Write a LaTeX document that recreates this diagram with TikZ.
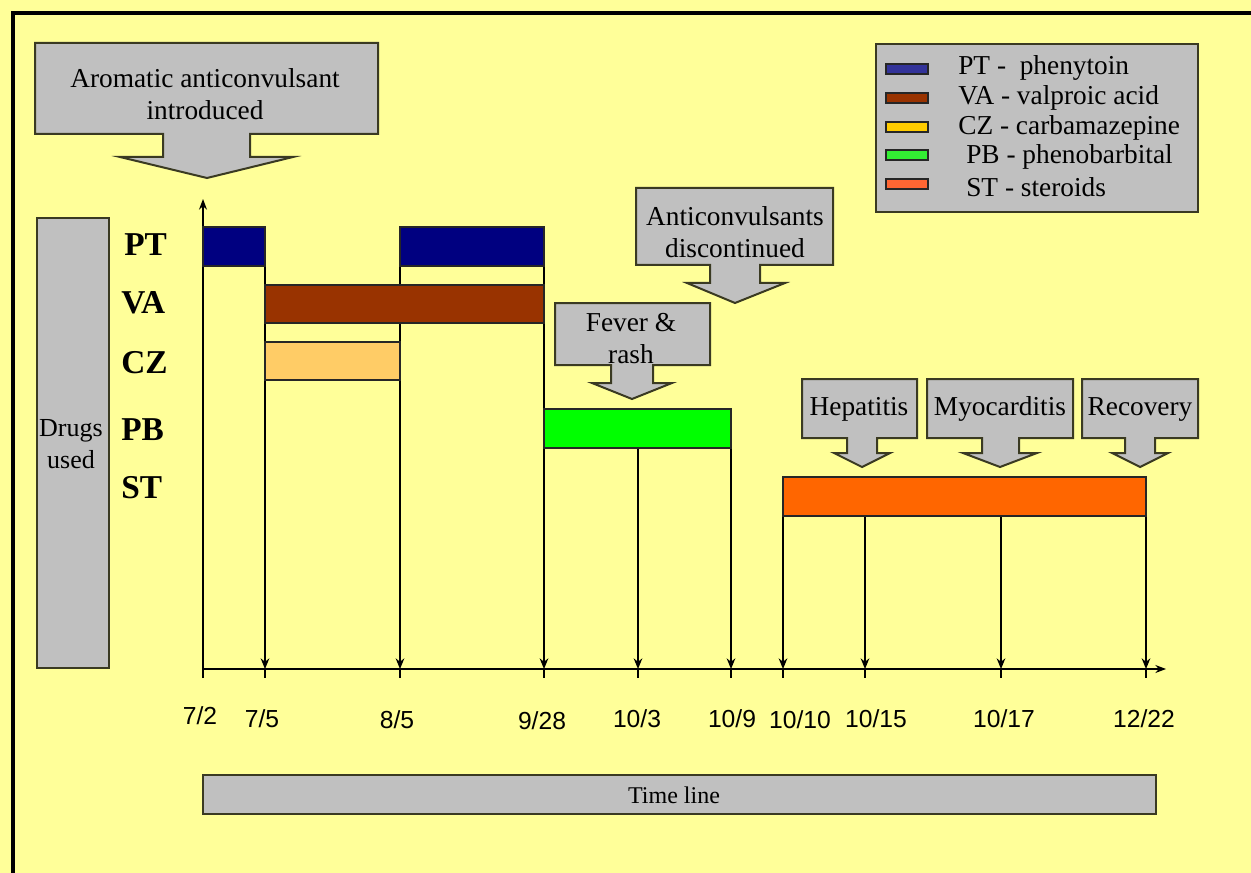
\documentclass[tikz,border=0pt]{standalone}
\usepackage{fontspec}
\setmainfont{Liberation Serif}
\newfontfamily\datefont{Liberation Sans}
\usetikzlibrary{arrows.meta}
\definecolor{bg}{HTML}{FFFF99}
\definecolor{boxgray}{HTML}{C0C0C0}
\definecolor{boxedge}{HTML}{3A3A22}
\definecolor{ptc}{HTML}{000080}
\definecolor{ptl}{HTML}{333399}
\definecolor{vac}{HTML}{993300}
\definecolor{czc}{HTML}{FFCC66}
\definecolor{czl}{HTML}{FFCC00}
\definecolor{pbc}{HTML}{00FF00}
\definecolor{pbl}{HTML}{33EE33}
\definecolor{stc}{HTML}{FF6600}
\definecolor{stl}{HTML}{FF6633}
\begin{document}
\begin{tikzpicture}[x=0.75pt,y=-0.75pt,
  callout/.style={fill=boxgray, draw=boxedge, line width=1.5pt, line join=miter},
  graybox/.style={fill=boxgray, draw=boxedge, line width=1.2pt},
  ctext/.style={font=\fontsize{20.5}{24}\selectfont, align=center, inner sep=0pt},
  drug/.style={font=\fontsize{25}{30}\selectfont\bfseries, anchor=west, inner sep=0pt},
  bar/.style={draw=black!85, line width=0.8pt},
  axisline/.style={line width=1pt, -{Stealth[length=8pt,width=6pt]}},
  vline/.style={line width=1pt, -{Stealth[length=8pt,width=6.5pt]}},
  tickline/.style={line width=1pt},
  datelabel/.style={font=\datefont\fontsize{18.5}{22}\selectfont, inner sep=0pt},
  legtext/.style={font=\fontsize{20.5}{24}\selectfont, anchor=west, inner sep=0pt},
  swatch/.style={draw=black!85, line width=0.8pt}
]
\useasboundingbox (0,0) rectangle (1251,873);
\fill[bg] (0,0) rectangle (1251,873);
\draw[line width=3pt] (13,873) -- (13,13) -- (1251,13);

% ---- callout: aromatic anticonvulsant introduced
\draw[callout] (35,43) -- (378,43) -- (378,134) -- (250,134) -- (250,157) -- (293,157)
  -- (207,178) -- (120,157) -- (163,157) -- (163,134) -- (35,134) -- cycle;
\node[ctext] (arom) at (205,94) {Aromatic anticonvulsant\\introduced};

% ---- legend
\draw[graybox] (876,44) rectangle (1198,212);
\draw[swatch, fill=ptl] (886,64) rectangle (928,74);
\draw[swatch, fill=vac] (886,93) rectangle (928,103);
\draw[swatch, fill=czl] (886,122) rectangle (928,132);
\draw[swatch, fill=pbl] (886,150) rectangle (928,160);
\draw[swatch, fill=stl] (886,179) rectangle (928,189);
\node[legtext] (lpt) at (958,68) {PT -\ \ phenytoin};
\node[legtext] (lva) at (958,98) {VA - valproic acid};
\node[legtext] (lcz) at (958,128) {CZ - carbamazepine};
\node[legtext] (lpb) at (966,157) {PB - phenobarbital};
\node[legtext] (lst) at (966,187) {ST - steroids};

% ---- drugs used box and row labels
\draw[graybox] (37,218) rectangle (109,668);
\node[font=\fontsize{19.5}{24}\selectfont, align=center, inner sep=0pt] (drugs) at (71,444) {Drugs\\used};
\node[drug] (rpt) at (124,245) {PT};
\node[drug] (rva) at (121,303) {VA};
\node[drug] (rcz) at (121,363) {CZ};
\node[drug] (rpb) at (121,430) {PB};
\node[drug] (rst) at (121,488) {ST};

% ---- axes
\coordinate (O) at (203,669);
\coordinate (ytop) at (203,199);
\coordinate (xend) at (1166,669);
\draw[axisline] (203,678) -- (ytop);
\draw[axisline] (O) -- (xend);

% ---- vertical date lines (arrows down to the axis)
\foreach \x/\y/\n in {265/266/a, 400/266/b, 544/266/c, 638/448/d, 731/448/e, 783/516/f, 865/516/g, 1001/516/h, 1146/516/i}{
  \coordinate (top\n) at (\x,\y);
  \coordinate (ax\n) at (\x,669);
  \draw[vline] (top\n) -- (ax\n);
  \draw[tickline] (ax\n) -- ++(0,9);
}

% ---- bars
\draw[bar, fill=ptc] (203,227) rectangle (265,266);
\draw[bar, fill=ptc] (400,227) rectangle (544,266);
\draw[bar, fill=vac] (265,285) rectangle (544,323);
\draw[bar, fill=czc] (265,342) rectangle (400,380);
\draw[bar, fill=pbc] (544,409) rectangle (731,448);
\draw[bar, fill=stc] (783,477) rectangle (1146,516);

% ---- date labels
\node[datelabel] (d1) at (200,716) {7/2};
\node[datelabel] (d2) at (262,719) {7/5};
\node[datelabel] (d3) at (397,720) {8/5};
\node[datelabel] (d4) at (542,721) {9/28};
\node[datelabel] (d5) at (637,719) {10/3};
\node[datelabel] (d6) at (732,719) {10/9};
\node[datelabel] (d7) at (800,720) {10/10};
\node[datelabel] (d8) at (876,719) {10/15};
\node[datelabel] (d9) at (1004,719) {10/17};
\node[datelabel] (d10) at (1144,719) {12/22};

% ---- callout: anticonvulsants discontinued
\draw[callout] (636,188) -- (833,188) -- (833,265) -- (760,265) -- (760,283) -- (785,283)
  -- (735,303) -- (687,283) -- (710,283) -- (710,265) -- (636,265) -- cycle;
\node[ctext] (disc) at (735,232) {Anticonvulsants\\discontinued};

% ---- callout: fever & rash
\draw[callout] (555,303) -- (710,303) -- (710,365) -- (653,365) -- (653,383) -- (672,383)
  -- (632,399) -- (592,383) -- (611,383) -- (611,365) -- (555,365) -- cycle;
\node[ctext] (fever) at (631,339) {Fever \&\\rash};

% ---- callout: hepatitis
\draw[callout] (802,379) -- (917,379) -- (917,438) -- (877,438) -- (877,453) -- (890,453)
  -- (862,467) -- (834,453) -- (847,453) -- (847,438) -- (802,438) -- cycle;
\node[ctext] (hep) at (859,409) {Hepatitis};

% ---- callout: myocarditis
\draw[callout] (927,379) -- (1073,379) -- (1073,438) -- (1019,438) -- (1019,453) -- (1037,453)
  -- (1000,467) -- (963,453) -- (982,453) -- (982,438) -- (927,438) -- cycle;
\node[ctext] (myo) at (1000,409) {Myocarditis};

% ---- callout: recovery
\draw[callout] (1082,379) -- (1198,379) -- (1198,438) -- (1155,438) -- (1155,453) -- (1168,453)
  -- (1140,467) -- (1112,453) -- (1125,453) -- (1125,438) -- (1082,438) -- cycle;
\node[ctext] (rec) at (1140,409) {Recovery};

% ---- time line box
\draw[graybox] (203,775) rectangle (1156,814);
\node[font=\fontsize{18}{22}\selectfont, inner sep=0pt] (tl) at (674,795) {Time line};
\end{tikzpicture}
\end{document}
